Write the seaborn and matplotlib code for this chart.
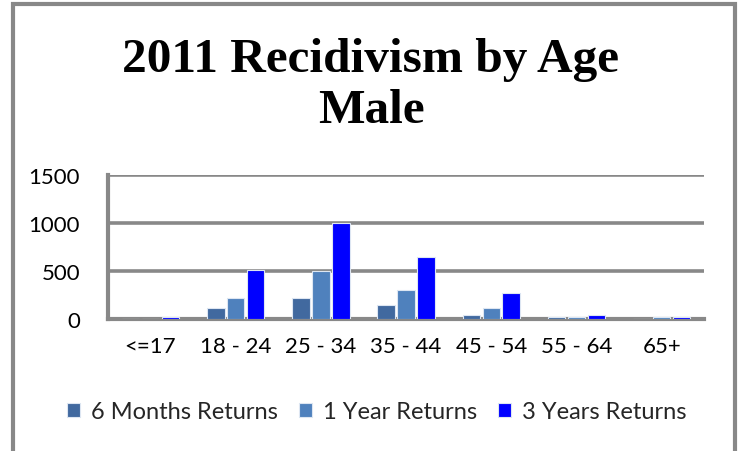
import matplotlib
matplotlib.use("Agg")
import matplotlib.pyplot as plt
import seaborn as sns
import pandas as pd
from matplotlib.patches import Rectangle

# данные
age_groups = ["<=17", "18 - 24", "25 - 34", "35 - 44", "45 - 54", "55 - 64", "65+"]
months_6 = [0, 110, 215, 150, 45, 22, 0]
year_1 = [0, 215, 495, 300, 110, 22, 22]
years_3 = [22, 510, 1000, 640, 275, 45, 22]
series = ["6 Months Returns", "1 Year Returns", "3 Years Returns"]
colors = ["#41699F", "#4F81BD", "#0000FF"]

df = pd.DataFrame({
    "age": age_groups * 3,
    "value": months_6 + year_1 + years_3,
    "series": [series[0]] * 7 + [series[1]] * 7 + [series[2]] * 7,
})

sns.set_style("white")
plt.rcParams['font.family'] = ['Lato', 'DejaVu Sans']

fig = plt.figure(figsize=(7.39, 4.52), dpi=100)
ax = fig.add_axes([0.146, 0.292, 0.807, 0.319])

sns.barplot(data=df, x="age", y="value", hue="series", palette=colors,
            saturation=1, width=0.7, gap=0.12, edgecolor="#DDE6F2",
            linewidth=0.8, ax=ax, legend=True, zorder=3)

ax.set_ylim(0, 1500)
ax.set_yticks([0, 500, 1000, 1500])
ax.set_xlim(-0.5, 6.5)
ax.set_xlabel("")
ax.set_ylabel("")
ax.grid(axis="y", color="#888888", linewidth=2.6)
ax.set_axisbelow(True)
for s in ["top", "right"]:
    ax.spines[s].set_visible(False)
for s in ["left", "bottom"]:
    ax.spines[s].set_color("#888888")
    ax.spines[s].set_linewidth(3)
ax.tick_params(axis="both", length=0, labelsize=16, colors="black")
ax.tick_params(axis="x", pad=12)
ax.tick_params(axis="y", pad=20)

ax.legend(loc="center", bbox_to_anchor=(0.51, 0.087), bbox_transform=fig.transFigure,
          ncol=3, frameon=False, fontsize=17, handlelength=0.55, handleheight=0.55,
          handletextpad=0.45, columnspacing=0.9)

fig.text(0.502, 0.81, "2011 Recidivism by Age\nMale", ha="center", va="center",
         fontsize=35.5, fontweight="bold", family="Liberation Serif",
         linespacing=1.2, color="black")

fig.patches.append(Rectangle((13 / 739, -0.05), (735 - 13) / 739, 1 - 5 / 452 + 0.05,
                             transform=fig.transFigure, fill=False,
                             edgecolor="#888888", linewidth=3))

fig.savefig("out.png", dpi=100)
